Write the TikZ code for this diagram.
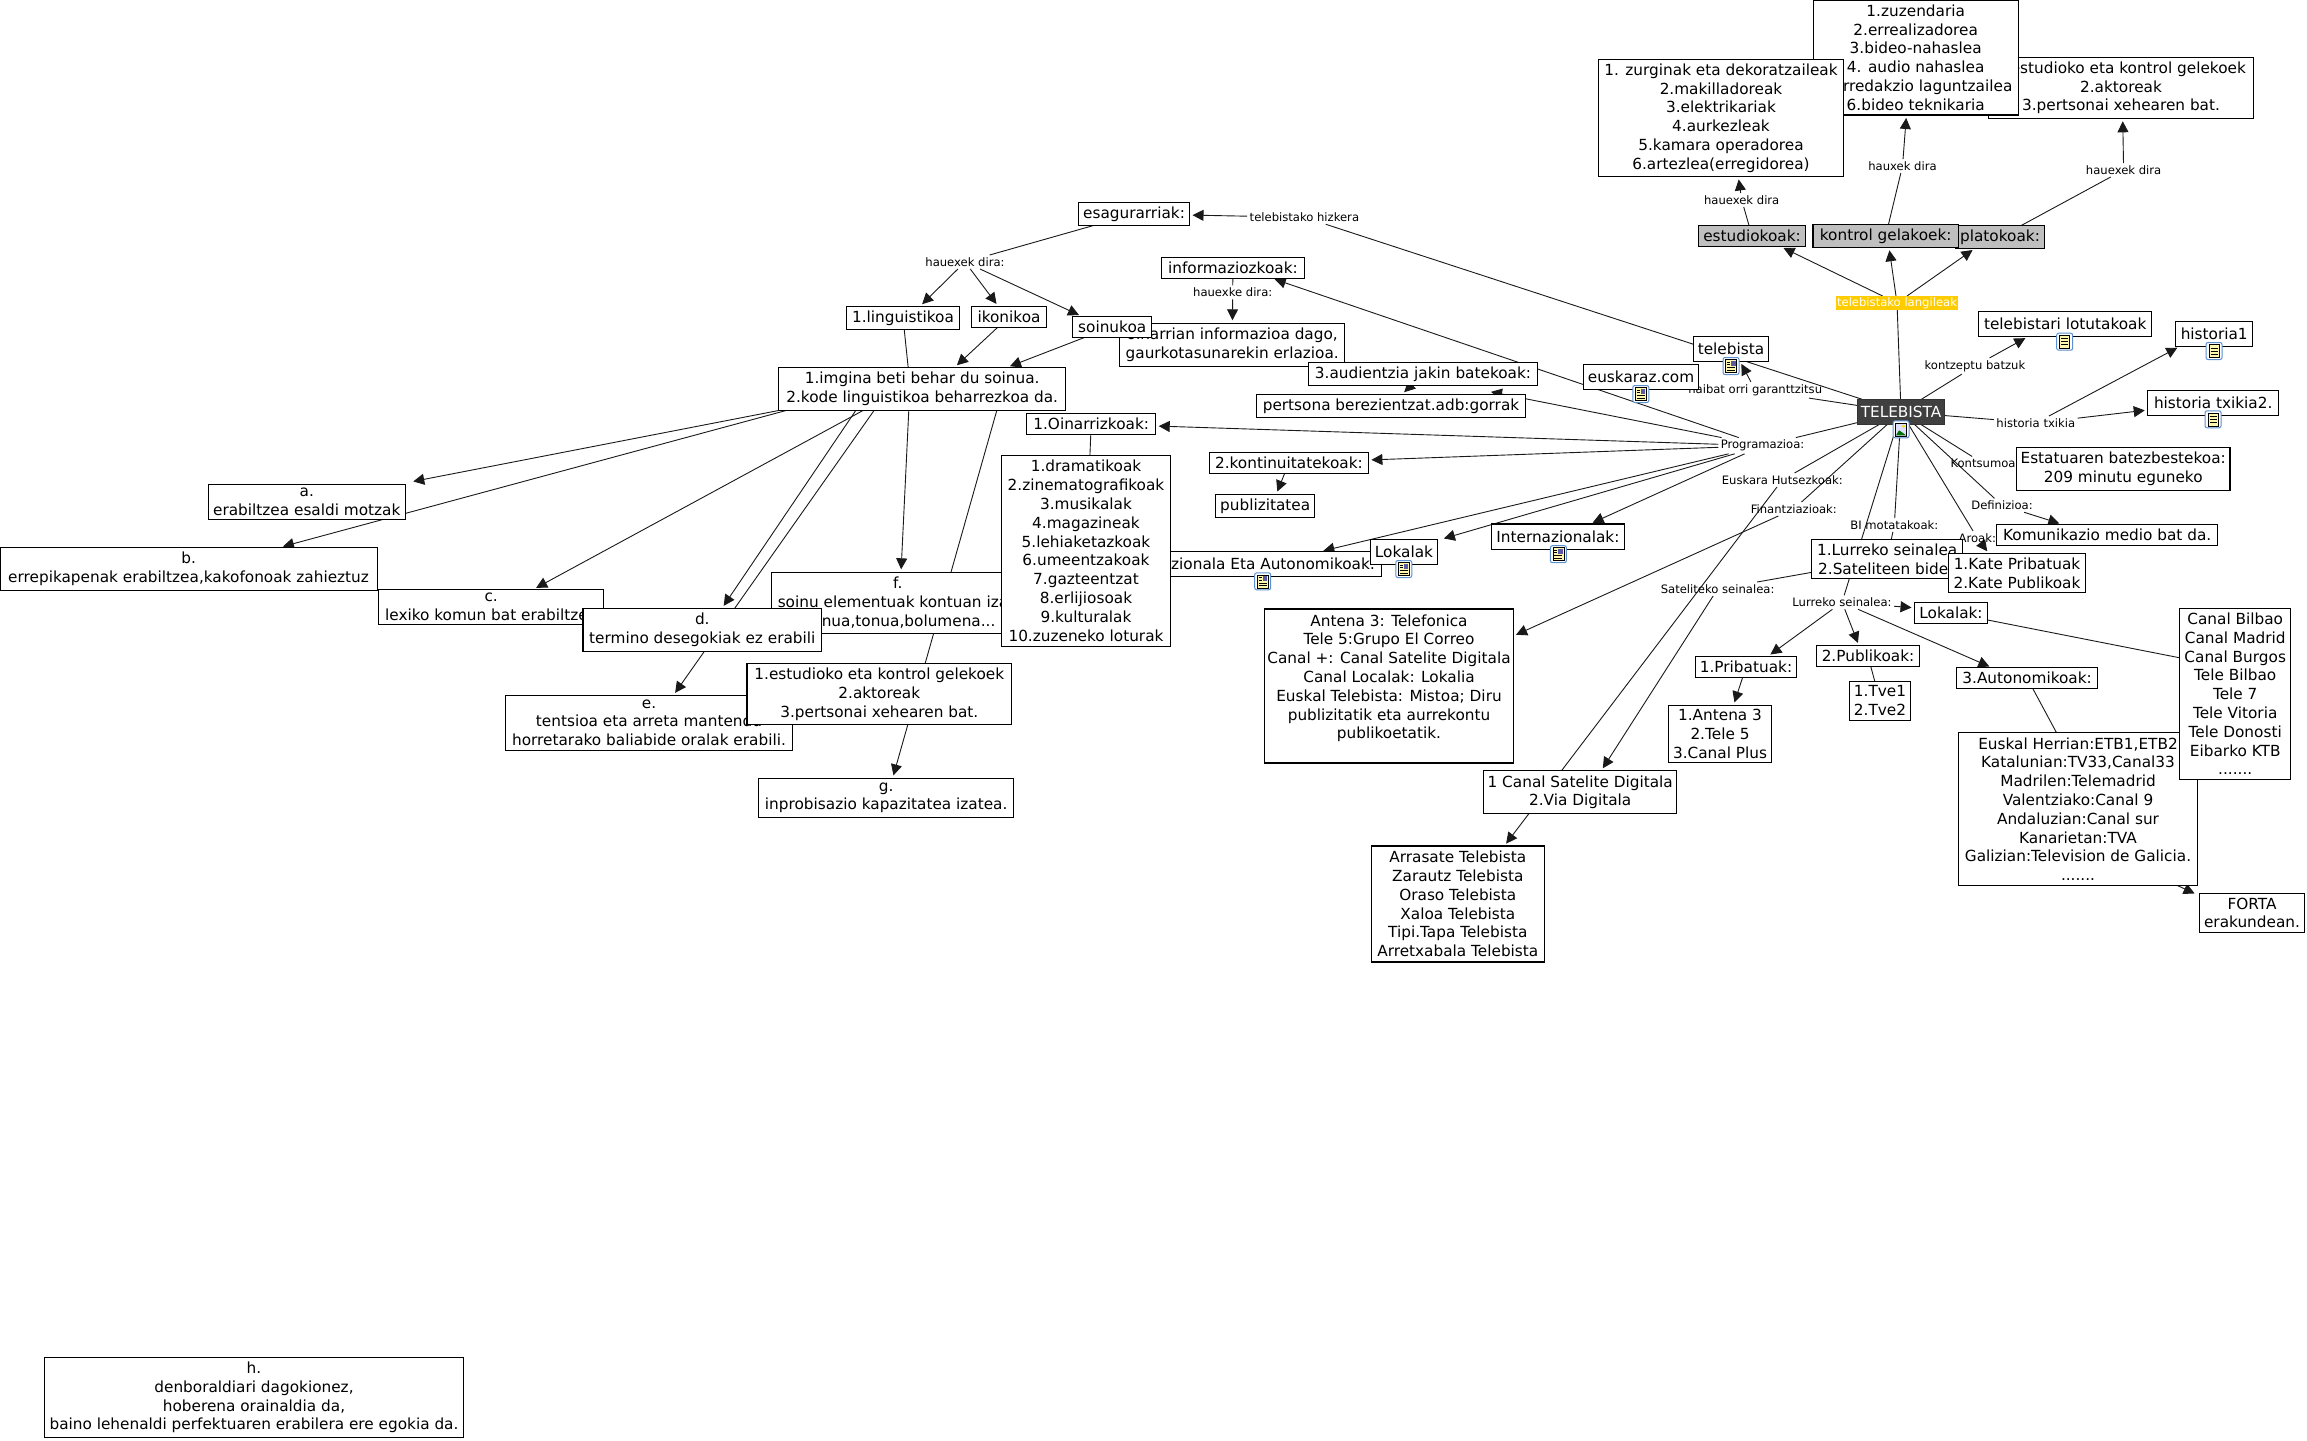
\documentclass[tikz,border=0pt]{standalone}
\usepackage{fontspec}
\setmainfont{DejaVu Sans}
\usetikzlibrary{arrows.meta,backgrounds}
\definecolor{iconblue}{HTML}{5B8FD0}
\definecolor{paperyellow}{HTML}{FFF6B0}
\definecolor{langyellow}{HTML}{FFCC00}
\def\noteicon(#1,#2){
	\draw[iconblue,line width=1pt,fill=white,rounded corners=2pt] (#1-8,#2-8.5) rectangle (#1+8,#2+8.5);
	\draw[black,line width=0.6pt,fill=paperyellow] (#1-5,#2-6.5) rectangle (#1+5,#2+6.5);
	\foreach \yy in {-3,0,3} \draw[black,line width=0.6pt] (#1-3.5,#2+\yy) -- (#1+3.5,#2+\yy);
}
\def\mixicon(#1,#2){
	\draw[iconblue,line width=1pt,fill=white,rounded corners=2pt] (#1-8,#2-8.5) rectangle (#1+8,#2+8.5);
	\draw[black,line width=0.6pt,fill=paperyellow] (#1-5.5,#2-6.5) rectangle (#1+5.5,#2+6.5);
	\fill[gray!70!blue] (#1,#2-5.5) rectangle (#1+4.5,#2-0.5);
	\foreach \yy in {1.5,4} \draw[black,line width=0.6pt] (#1-4,#2+\yy) -- (#1+4,#2+\yy);
	\foreach \yy in {-4,-1.5} \draw[black,line width=0.6pt] (#1-4,#2+\yy) -- (#1-1,#2+\yy);
}
\def\photoicon(#1,#2){
	\draw[iconblue,line width=1pt,fill=white,rounded corners=2pt] (#1-8,#2-8.5) rectangle (#1+8,#2+8.5);
	\draw[black,line width=0.6pt,fill=blue!12] (#1-5.5,#2-6.5) rectangle (#1+5.5,#2+6.5);
	\fill[green!45!black] (#1-5,#2+6) -- (#1-2,#2+1) -- (#1+1,#2+3) -- (#1+5,#2+6) -- cycle;
	\fill[yellow!80!orange] (#1+2.5,#2-3) circle (1.6);
}
\tikzset{
	box/.style={draw=black,line width=1.2pt,fill=white,align=center,inner sep=0pt,outer sep=0pt,
		font=\fontsize{15.3}{18.8}\selectfont,text=black},
	greybox/.style={box,fill=black!25},
	lnk/.style={align=center,inner sep=2.5pt,outer sep=0pt,font=\fontsize{11.6}{13}\selectfont,text=black},
	conn/.style={draw=black!90,line width=0.9pt},
	arw/.style={conn,-{Triangle[length=11pt,width=11pt]},shorten >=3pt},
}
\begin{document}
\begin{tikzpicture}[x=1pt,y=-1pt]
	%%%%% labels
	\path[use as bounding box] (0,0) rectangle (2307,1440);
	\node[lnk] (lhau1) at (1741.7,200) {hauexek dira};
	\node[lnk] (lhau2) at (1902.5,166) {hauxek dira};
	\node[lnk] (lhau3) at (2123.6,170) {hauexek dira};
	\node[lnk,fill=langyellow,text=white,inner sep=0pt,minimum width=122,minimum height=14] (llang) at (1897,303) {telebistako langileak};
	\node[lnk] (lkontz) at (1974.9,366) {kontzeptu batzuk};
	\node[lnk] (lhaib) at (1755.2,390) {haibat orri garanttzitsu};
	\node[lnk] (lhist) at (2035.8,423) {historia txikia};
	\node[lnk] (lprog) at (1762.5,445.7) {Programazioa:};
	\node[lnk] (lkons) at (1983,463.3) {Kontsumoa};
	\node[lnk] (leusk) at (1782.3,480) {Euskara Hutsezkoak:};
	\node[lnk] (ldef) at (2002,505.3) {Definizioa:};
	\node[lnk] (lfin) at (1793.8,509) {Finantziazioak:};
	\node[lnk] (lbi) at (1894.3,525) {BI motatakoak:};
	\node[lnk] (laro) at (1977.3,538) {Aroak:};
	\node[lnk] (lsat) at (1717.6,589) {Sateliteko seinalea:};
	\node[lnk] (llur) at (1842,602.3) {Lurreko seinalea:};
	\node[lnk] (lhizk) at (1304.4,217.3) {telebistako hizkera};
	\node[lnk] (lhauxe) at (1232.7,292.3) {hauexke dira:};
	\node[lnk] (lhauex) at (965,262) {hauexek dira:};
	\coordinate (hidden) at (910,385);
	\coordinate (hiddenb) at (910,377);
	\coordinate (hiddend) at (873,385);
	\coordinate (hiddene) at (892,385);
	\coordinate (hiddeng) at (1004,385);
	\coordinate (hiddenf) at (2126,862);
	
	%%%%% top right
	\node[box,minimum width=265,minimum height=61] (estudR) at (2121,87.8) {1.estudioko eta kontrol gelekoek\\2.aktoreak\\3.pertsonai xehearen bat.};
	\node[box,minimum width=205,minimum height=115] (zuzen) at (1915.7,57.5) {1.zuzendaria\\2.errealizadorea\\3.bideo-nahaslea\\4. audio nahaslea\\5.erredakzio laguntzailea\\6.bideo teknikaria};
	\node[box,minimum width=245,minimum height=117] (zurgin) at (1721,118) {1. zurginak eta dekoratzaileak\\2.makilladoreak\\3.elektrikariak\\4.aurkezleak\\5.kamara operadorea\\6.artezlea(erregidorea)};
	\node[greybox,minimum width=107,minimum height=21.4] (estudk) at (1752,236) {estudiokoak:};
	\node[greybox,minimum width=89,minimum height=22.6] (plato) at (2000,237) {platokoak:};
	\node[greybox,minimum width=145.5,minimum height=23] (kontrol) at (1885.7,235.8) {kontrol gelakoek:};
	\node[box,minimum width=173,minimum height=25.4] (lotu) at (2065.2,324) {telebistari lotutakoak};
	\node[box,minimum width=77,minimum height=24.6] (hist1) at (2214.2,334) {historia1};
	\node[box,minimum width=75.3,minimum height=25] (telebi) at (1731,348.8) {telebista};
	\node[box,minimum width=115.4,minimum height=25] (euskom) at (1641,376.8) {euskaraz.com};
	\node[box,draw=black!80,fill=black!75,text=white,minimum width=87,minimum height=25.4] (tb) at (1901,412) {TELEBISTA};
	\node[box,minimum width=131,minimum height=25.4] (hist2) at (2213.2,403) {historia txikia2.};
	\node[box,minimum width=213.5,minimum height=43] (estat) at (2123.2,468.8) {Estatuaren batezbestekoa:\\209 minutu eguneko};
	\noteicon(2064.7,341.7)
	\noteicon(2214,351)
	\noteicon(2213,419.3)
	\mixicon(1731,366)
	\mixicon(1640.8,394)
	\photoicon(1901,429.3)
	
	%%%%% right
	\node[box,minimum width=221,minimum height=21] (komun) at (2107.2,534.8) {Komunikazio medio bat da.};
	\node[box,minimum width=151,minimum height=38.6] (lurre) at (1887.2,559) {1.Lurreko seinalea\\2.Sateliteen bidez};
	\node[box,minimum width=137,minimum height=38.6] (kate) at (2017,573) {1.Kate Pribatuak\\2.Kate Publikoak};
	\node[box,minimum width=73,minimum height=21] (lokal2) at (1951,612.8) {Lokalak:};
	\node[box,minimum width=101.4,minimum height=21.4] (priba) at (1746,667) {1.Pribatuak:};
	\node[box,minimum width=103,minimum height=21] (publi) at (1868,656.2) {2.Publikoak:};
	\node[box,minimum width=141,minimum height=20.6] (auton) at (2027.1,678) {3.Autonomikoak:};
	\node[box,minimum width=61.3,minimum height=39] (tve) at (1880,700.8) {1.Tve1\\2.Tve2};
	\node[box,minimum width=103.3,minimum height=57] (antena) at (1720,733.8) {1.Antena 3\\2.Tele 5\\3.Canal Plus};
	\node[box,minimum width=239,minimum height=152.6] (euskal) at (2078,809) {Euskal Herrian:ETB1,ETB2\\Katalunian:TV33,Canal33\\Madrilen:Telemadrid\\Valentziako:Canal 9\\Andaluzian:Canal sur\\Kanarietan:TVA\\Galizian:Television de Galicia.\\.......};
	\node[box,minimum width=111,minimum height=171] (canalb) at (2235.2,693.8) {Canal Bilbao\\Canal Madrid\\Canal Burgos\\Tele Bilbao\\Tele 7\\Tele Vitoria\\Tele Donosti\\Eibarko KTB\\.......};
	\node[box,minimum width=105.3,minimum height=38.6] (forta) at (2252,913) {FORTA\\erakundean.};
	\node[box,minimum width=193,minimum height=43] (canals) at (1580.2,792.3) {1 Canal Satelite Digitala\\2.Via Digitala};
	\node[box,minimum width=173,minimum height=116] (arras) at (1457.8,904) {Arrasate Telebista\\Zarautz Telebista\\Oraso Telebista\\Xaloa Telebista\\Tipi.Tapa Telebista\\Arretxabala Telebista};
	\node[box,anchor=north,minimum width=248.6,minimum height=154,text depth=0pt] (telef) at (1389,609) {Antena 3: Telefonica\\Tele 5:Grupo El Correo\\Canal +: Canal Satelite Digitala\\Canal Localak: Lokalia\\Euskal Telebista: Mistoa; Diru\\publizitatik eta aurrekontu\\publikoetatik.\\ };
	\node[box,minimum width=132.8,minimum height=25.7] (inter) at (1557.9,536.8) {Internazionalak:};
	\mixicon(1558.4,554.2)
	
	%%%%% middle
	\node[box,minimum width=237.6,minimum height=25] (nazio) at (1262.7,564) {Nazionala Eta Autonomikoak:};
	\node[box,minimum width=67.4,minimum height=25] (lokal) at (1404,551.8) {Lokalak};
	\mixicon(1262.7,581.3)
	\mixicon(1403.8,569)
	\node[box,minimum width=225,minimum height=43] (oinar) at (1232.2,344.8) {oinarrian informazioa dago,\\gaurkotasunarekin erlazioa.};
	\node[box,minimum width=143,minimum height=21] (infor) at (1232.9,267.8) {informaziozkoak:};
	\node[box,minimum width=229.3,minimum height=23] (audi) at (1423,373.8) {3.audientzia jakin batekoak:};
	\node[box,minimum width=269,minimum height=23] (perts) at (1391,405.8) {pertsona berezientzat.adb:gorrak};
	\node[box,minimum width=159,minimum height=21] (konti) at (1288.9,462.8) {2.kontinuitatekoak:};
	\node[box,minimum width=99,minimum height=23] (publiz) at (1265.2,505.8) {publizitatea};
	\node[box,minimum width=111,minimum height=22.6] (esagu) at (1134,214) {esagurarriak:};
	\node[box,minimum width=112.6,minimum height=23] (lingu) at (903,317.8) {1.linguistikoa};
	\node[box,minimum width=75.4,minimum height=21] (ikoni) at (1009,316.8) {ikonikoa};
	\node[box,minimum width=79,minimum height=21] (soinu) at (1112.2,326.8) {soinukoa};
	\node[box,minimum width=287,minimum height=43] (imgin) at (922.2,388.8) {1.imgina beti behar du soinua.\\2.kode linguistikoa beharrezkoa da.};
	
	%%%%% left
	\node[box,minimum width=197,minimum height=35.4] (bxa) at (306.8,502) {a.\\erabiltzea esaldi motzak};
	\node[box,minimum width=225.2,minimum height=35] (bxc) at (491.2,606.8) {c.\\lexiko komun bat erabiltzea};
	\node[box,minimum width=377.3,minimum height=43] (bxb) at (188.6,568.8) {b.\\errepikapenak erabiltzea,kakofonoak zahieztuz};
	\node[box,minimum width=252.4,minimum height=61] (bxf) at (897.8,602.8) {f.\\soinu elementuak kontuan izan\\soinua,tonua,bolumena...};
	\node[box,minimum width=238.7,minimum height=43] (bxd) at (702.3,629.8) {d.\\termino desegokiak ez erabili};
	\node[box,minimum width=169,minimum height=191] (drama) at (1086,550.8) {1.dramatikoak\\2.zinematografikoak\\3.musikalak\\4.magazineak\\5.lehiaketazkoak\\6.umeentzakoak\\7.gazteentzat\\8.erlijiosoak\\9.kulturalak\\10.zuzeneko loturak};
	\node[box,minimum width=129,minimum height=21] (oinri) at (1091.2,423.8) {1.Oinarrizkoak:};
	\node[box,minimum width=287,minimum height=55] (bxe) at (649,722.8) {e.\\tentsioa eta arreta mantendu\\horretarako baliabide oralak erabili.};
	\node[box,minimum width=264.8,minimum height=60.6] (estudL) at (879.3,694) {1.estudioko eta kontrol gelekoek\\2.aktoreak\\3.pertsonai xehearen bat.};
	\node[box,minimum width=255,minimum height=39] (bxg) at (886.2,797.8) {g.\\inprobisazio kapazitatea izatea.};
	\node[box,minimum width=419.4,minimum height=80.4] (bxh) at (254,1397.5) {h.\\denboraldiari dagokionez,\\hoberena orainaldia da,\\baino lehenaldi perfektuaren erabilera ere egokia da.};
	
	%%%%% connectors
	\begin{pgfonlayer}{background}
		\draw[conn] (tb) -- (llang);
		\draw[arw] (llang) -- ([xshift=28.8pt]estudk.south);
		\draw[arw] (llang) -- ([xshift=3.3pt]kontrol.south);
		\draw[arw] (llang) -- ([xshift=-25pt]plato.south);
		\draw[conn] (estudk) -- (lhau1);
		\draw[arw] (lhau1) -- ([xshift=17.3pt]zurgin.south);
		\draw[conn] (kontrol) -- (lhau2);
		\draw[arw] (lhau2) -- ([xshift=-9.3pt]zuzen.south);
		\draw[conn] (plato) -- (lhau3);
		\draw[arw] (lhau3) -- ([xshift=1.7pt]estudR.south);
		\draw[conn] (tb) -- (lkontz);
		\draw[arw] (lkontz) -- ([xshift=-37.2pt]lotu.south);
		\draw[conn] (tb) -- (lhist);
		\draw[arw] (lhist) -- ([xshift=-34.2pt]hist1.south);
		\draw[arw] (lhist) -- ([yshift=-7pt]hist2.west);
		\draw[conn] (tb) -- (lhaib);
		\draw[arw] (lhaib) -- ([xshift=9pt]telebi.south);
		\draw[conn] (tb) -- (lhizk);
		\draw[arw] (lhizk) -- (esagu);
		\draw[conn] (esagu) -- (lhauex);
		\draw[arw] (lhauex) -- ([xshift=17pt]lingu.north);
		\draw[arw] (lhauex) -- ([xshift=-10.7pt]ikoni.north);
		\draw[arw] (lhauex) -- ([xshift=-30.5pt]soinu.north);
		\draw[conn] (lingu) -- (hidden);
		\draw[arw] (ikoni) -- ([xshift=32.5pt]imgin.north);
		\draw[arw] (soinu) -- ([xshift=85pt]imgin.north);
		\draw[arw] (hidden) -- ([xshift=5pt,yshift=20pt]bxa.east);
		\draw[arw] (hiddenb) -- ([xshift=91.4pt]bxb.north);
		\draw[arw] (hidden) -- ([xshift=42.3pt]bxc.north);
		\draw[arw] (hiddend) -- ([xshift=19.7pt]bxd.north);
		\draw[arw] (hiddene) -- ([xshift=24.4pt]bxe.north);
		\draw[arw] (hidden) -- ([xshift=3.2pt]bxf.north);
		\draw[arw] (hiddeng) -- ([xshift=6.4pt]bxg.north);
		\draw[conn] (tb) -- (lprog);
		\draw[arw] (lprog) -- ([xshift=39pt]infor.south);
		\draw[arw] (lprog) -- ([xshift=97pt,yshift=3pt]perts.north);
		\draw[arw] (lprog) -- ([yshift=-2.2pt]oinri.east);
		\draw[arw] (lprog) -- ([yshift=2.8pt]konti.east);
		\draw[arw] (lprog) -- ([xshift=57.7pt]nazio.north);
		\draw[arw] (lprog) -- ([xshift=37pt]lokal.north);
		\draw[arw] (lprog) -- ([xshift=32pt]inter.north);
		\draw[conn] (infor) -- (lhauxe);
		\draw[arw] (lhauxe) -- (oinar);
		\draw[arw] (audi) -- ([xshift=11pt]perts.north);
		\draw[arw] (konti) -- ([xshift=11pt]publiz.north);
		\draw[conn] (oinri) -- (drama);
		\draw[conn] (tb) -- (leusk);
		\draw[arw] (leusk) -- ([xshift=46.5pt]arras.north);
		\draw[conn] (tb) -- (lfin);
		\draw[arw] (lfin) -- ([yshift=50pt]telef.east);
		\draw[conn] (tb) -- (lbi);
		\draw[conn] (lbi) -- (lurre);
		\draw[conn] (tb) -- (llur);
		\draw[conn] (lurre) -- (lsat);
		\draw[arw] (lsat) -- ([xshift=21pt]canals.north);
		\draw[arw] (llur) -- ([xshift=22pt]priba.north);
		\draw[arw] (llur) -- ([xshift=-9pt]publi.north);
		\draw[arw] (llur) -- ([xshift=-35pt]auton.north);
		\draw[arw] (llur) -- ([yshift=5pt]lokal2.west);
		\draw[arw] (priba) -- ([xshift=13.5pt]antena.north);
		\draw[conn] (publi) -- (tve);
		\draw[conn] (auton) -- (hiddenf);
		\draw[arw] (hiddenf) -- ([yshift=-1pt,xshift=-2pt]forta.north west);
		\draw[conn] (lokal2) -- ([yshift=36pt]canalb.west);
		\draw[conn] (tb) -- (lkons);
		\draw[conn] (lkons) -- (estat);
		\draw[conn] (tb) -- (ldef);
		\draw[arw] (ldef) -- ([xshift=-45pt]komun.north);
		\draw[conn] (tb) -- (laro);
		\draw[arw] (laro) -- ([xshift=-28pt]kate.north);
	\end{pgfonlayer}
\end{tikzpicture}
\end{document}
